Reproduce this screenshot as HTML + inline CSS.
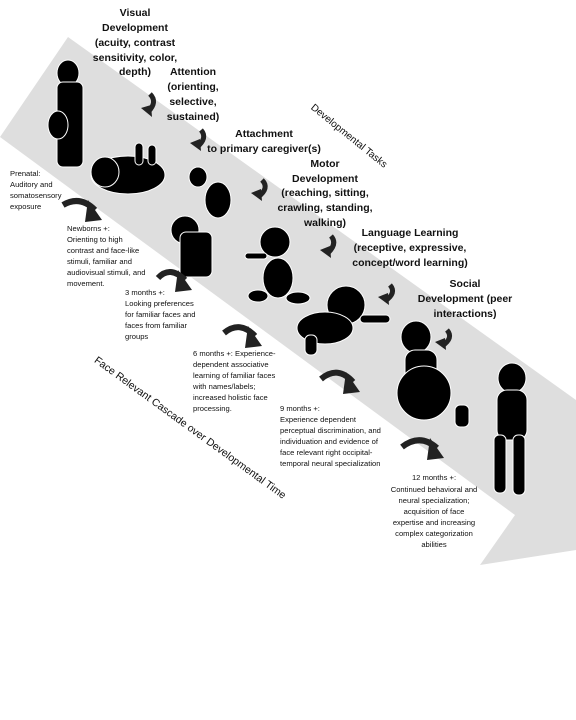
<!DOCTYPE html>
<html><head><meta charset="utf-8"><style>
html,body{margin:0;padding:0;background:#fff;}
svg{display:block;font-family:"Liberation Sans",sans-serif;}
.t{font-size:10.5px;font-weight:bold;text-anchor:middle;fill:#111;}
.s{font-size:7.6px;fill:#111;}
.sc{font-size:7.6px;fill:#111;text-anchor:middle;}
</style></head><body>
<svg width="576" height="720" viewBox="0 0 576 720">
<polygon points="68,37 576,400 576,550 480,565 515,515 0,137" fill="#dedede"/>

<g fill="#000" stroke="#fff" stroke-width="1">
 <g>
  <ellipse cx="68" cy="73" rx="11" ry="13"/><rect x="57" y="82" width="26" height="85" rx="6"/><ellipse cx="58" cy="125" rx="10" ry="14"/>
 </g>
 <g>
  <ellipse cx="128" cy="175" rx="37" ry="19"/><ellipse cx="105" cy="172" rx="14" ry="15"/><rect x="135" y="143" width="8" height="22" rx="4"/><rect x="148" y="145" width="8" height="20" rx="4"/>
 </g>
 <g>
  <ellipse cx="198" cy="177" rx="9" ry="10"/><ellipse cx="218" cy="200" rx="13" ry="18"/><ellipse cx="185" cy="230" rx="14" ry="14"/><rect x="180" y="232" width="32" height="45" rx="6"/>
 </g>
 <g>
  <ellipse cx="275" cy="242" rx="15" ry="15"/><ellipse cx="278" cy="278" rx="15" ry="20"/><ellipse cx="258" cy="296" rx="10" ry="6"/><ellipse cx="298" cy="298" rx="12" ry="6"/><rect x="245" y="253" width="22" height="6" rx="3"/>
 </g>
 <g>
  <ellipse cx="346" cy="305" rx="19" ry="19"/><ellipse cx="325" cy="328" rx="28" ry="16"/><rect x="360" y="315" width="30" height="8" rx="4"/><rect x="305" y="335" width="12" height="20" rx="5"/>
 </g>
 <g>
  <ellipse cx="416" cy="337" rx="15" ry="16"/><rect x="405" y="350" width="32" height="60" rx="10"/><circle cx="424" cy="393" r="27"/><rect x="455" y="405" width="14" height="22" rx="5"/>
 </g>
 <g>
  <ellipse cx="512" cy="378" rx="14" ry="15"/><rect x="497" y="390" width="30" height="50" rx="10"/><rect x="494" y="435" width="12" height="58" rx="5"/><rect x="513" y="435" width="12" height="60" rx="5"/>
 </g>
</g>

<g fill="none" stroke="#222" stroke-width="5">
 <path d="M150,94 Q158,102 148,112"/><path d="M201,130 Q208,138 197,147"/><path d="M262,180 Q270,188 258,197"/><path d="M331,236 Q338,244 327,254"/><path d="M390,285 Q397,293 385,301"/><path d="M447,330 Q454,338 442,346"/>
</g>
<g fill="#222">
 <polygon points="141,108 152,117 151,105"/><polygon points="190,143 201,151 200,139"/><polygon points="251,193 262,201 261,189"/><polygon points="320,250 331,258 330,246"/><polygon points="378,297 389,305 388,293"/><polygon points="435,342 446,350 445,338"/>
</g>
<g fill="none" stroke="#222" stroke-width="6">
 <path d="M63,205 Q80,195 95,210"/><path d="M158,278 Q170,265 185,280"/><path d="M224,333 Q240,320 255,336"/><path d="M321,379 Q338,365 353,382"/><path d="M402,447 Q420,433 437,448"/>
</g>
<g fill="#222">
 <polygon points="88,200 102,220 85,222"/><polygon points="178,270 192,290 175,292"/><polygon points="248,326 262,346 245,348"/><polygon points="346,372 360,392 343,394"/><polygon points="430,438 444,458 427,460"/>
</g>

<g>
 <text class="t"><tspan x="135" y="16">Visual</tspan><tspan x="135" y="31">Development</tspan><tspan x="135" y="46">(acuity, contrast</tspan><tspan x="135" y="61">sensitivity, color,</tspan><tspan x="135" y="75">depth)</tspan></text>
 <text class="t"><tspan x="193" y="75">Attention</tspan><tspan x="193" y="90">(orienting,</tspan><tspan x="193" y="105">selective,</tspan><tspan x="193" y="120">sustained)</tspan></text>
 <text class="t"><tspan x="264" y="137">Attachment</tspan><tspan x="264" y="152">to primary caregiver(s)</tspan></text>
 <text class="t"><tspan x="325" y="167">Motor</tspan><tspan x="325" y="182">Development</tspan><tspan x="325" y="196">(reaching, sitting,</tspan><tspan x="325" y="211">crawling, standing,</tspan><tspan x="325" y="226">walking)</tspan></text>
 <text class="t"><tspan x="410" y="236">Language Learning</tspan><tspan x="410" y="251">(receptive, expressive,</tspan><tspan x="410" y="266">concept/word learning)</tspan></text>
 <text class="t"><tspan x="465" y="287">Social</tspan><tspan x="465" y="302">Development (peer</tspan><tspan x="465" y="317">interactions)</tspan></text>
 <text font-size="10" text-anchor="middle" fill="#111" transform="translate(349,136) rotate(39)" x="0" y="3">Developmental Tasks</text>
</g>

<g>
 <text class="s"><tspan x="10" y="176">Prenatal:</tspan><tspan x="10" y="187">Auditory and</tspan><tspan x="10" y="198">somatosensory</tspan><tspan x="10" y="209">exposure</tspan></text>
 <text class="s"><tspan x="67" y="231">Newborns +:</tspan><tspan x="67" y="242">Orienting to high</tspan><tspan x="67" y="253">contrast and face-like</tspan><tspan x="67" y="264">stimuli, familiar  and</tspan><tspan x="67" y="275">audiovisual stimuli, and</tspan><tspan x="67" y="286">movement.</tspan></text>
 <text class="s"><tspan x="125" y="295">3 months +:</tspan><tspan x="125" y="306">Looking preferences</tspan><tspan x="125" y="317">for familiar faces and</tspan><tspan x="125" y="328">faces from familiar</tspan><tspan x="125" y="339">groups</tspan></text>
 <text class="s"><tspan x="193" y="356">6 months +: Experience-</tspan><tspan x="193" y="367">dependent associative</tspan><tspan x="193" y="378">learning of familiar faces</tspan><tspan x="193" y="389">with names/labels;</tspan><tspan x="193" y="400">increased holistic face</tspan><tspan x="193" y="411">processing.</tspan></text>
 <text class="s"><tspan x="280" y="411">9 months +:</tspan><tspan x="280" y="422">Experience dependent</tspan><tspan x="280" y="433">perceptual discrimination, and</tspan><tspan x="280" y="444">individuation and evidence of</tspan><tspan x="280" y="455">face relevant right occipital-</tspan><tspan x="280" y="466">temporal neural specialization</tspan></text>
 <text class="sc"><tspan x="434" y="480">12 months +:</tspan><tspan x="434" y="492">Continued behavioral and</tspan><tspan x="434" y="503">neural specialization;</tspan><tspan x="434" y="514">acquisition of face</tspan><tspan x="434" y="525">expertise and increasing</tspan><tspan x="434" y="536">complex categorization</tspan><tspan x="434" y="547">abilities</tspan></text>
 <text font-size="10.5" text-anchor="middle" fill="#111" transform="translate(190,428) rotate(36)" x="0" y="3">Face Relevant Cascade over Developmental Time</text>
</g>
</svg>
</body></html>
